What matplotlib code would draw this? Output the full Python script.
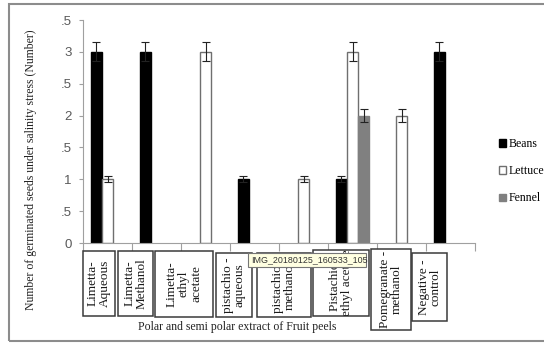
import numpy as np
import matplotlib
matplotlib.use('Agg')
import matplotlib.pyplot as plt
from matplotlib.patches import Rectangle

# data
categories = ['Limetta-\nAqueous', 'Limetta-\nMethanol', 'Limetta-\nethyl\nacetate',
              'pistachio -\naqueous', 'pistachio -\nmethanol', 'Pistachio -\nethyl acetate',
              'Pomegranate -\nmethanol', 'Negative -\ncontrol']
beans = [3, 3, 0, 1, 0, 1, 0, 3]
lettuce = [1, 0, 3, 0, 1, 3, 2, 0]
fennel = [0, 0, 0, 0, 0, 2, 0, 0]
beans_err = [0.15, 0.15, 0, 0.05, 0, 0.05, 0, 0.15]
lettuce_err = [0.05, 0, 0.15, 0, 0.05, 0.15, 0.1, 0]
fennel_err = [0, 0, 0, 0, 0, 0.1, 0, 0]
ytick_vals = [0, 0.5, 1, 1.5, 2, 2.5, 3, 3.5]
ytick_text = ['0', '.5', '1', '.5', '2', '.5', '3', '.5']

W, H = 544, 343
fig = plt.figure(figsize=(W / 100, H / 100), dpi=100)

def px(x, y):
    return x / W, 1 - y / H

# outer frame of the screenshot
fig.add_artist(Rectangle(px(9, 341), (W + 5 - 9) / W, (341 - 4) / H,
                         transform=fig.transFigure, fill=False,
                         edgecolor='#8c8c8c', lw=1.5))

ax = fig.add_axes([83 / W, 1 - 243 / H, (475 - 83) / W, (243 - 20) / H])
x = np.arange(len(categories))
bw = 0.2245
series = [(beans, beans_err, 'black', 'black', 'Beans'),
          (lettuce, lettuce_err, 'white', '#6f6f6f', 'Lettuce'),
          (fennel, fennel_err, '#808080', '#808080', 'Fennel')]
handles = []
for i, (vals, errs, fc, ec, name) in enumerate(series):
    v = np.array(vals, float)
    e = np.array(errs, float)
    xs = x + (i - 1) * bw
    keep = v > 0
    b = ax.bar(xs[keep], v[keep], bw, color=fc, edgecolor=ec, lw=1.0, label=name, zorder=2)
    ax.errorbar(xs[keep], v[keep], yerr=e[keep], fmt='none', ecolor='#222222',
                elinewidth=0.8, capsize=3, capthick=0.8, zorder=3)
    handles.append(b)

ax.set_xlim(-0.5, len(categories) - 0.5)
ax.set_ylim(0, 3.5)
ax.set_yticks(ytick_vals)
ax.set_yticklabels(ytick_text, fontsize=9.5, color='#595959', family='Liberation Sans')
ax.set_xticks(np.arange(len(categories) + 1) - 0.5)
ax.set_xticklabels([])
ax.tick_params(axis='x', length=6, color='#a0a0a0', direction='out')
ax.tick_params(axis='y', length=3, color='#a0a0a0', direction='out', pad=5)
for s in ['top', 'right']:
    ax.spines[s].set_visible(False)
for s in ['left', 'bottom']:
    ax.spines[s].set_color('#a0a0a0')

# boxed category labels (pixel extents as in the picture)
boxes = [(83, 251, 115, 316), (118, 251, 153, 316), (155, 251, 213, 317),
         (216, 253, 252, 317), (257, 253, 311, 317), (313, 250, 369, 316),
         (371, 249, 411, 330), (412, 253, 447, 321)]
for (x0, y0, x1, y1), lab in zip(boxes, categories):
    r = Rectangle(px(x0, y1), (x1 - x0) / W, (y1 - y0) / H, transform=fig.transFigure,
                  facecolor='white', edgecolor='#3a3a3a', lw=1.1)
    fig.add_artist(r)
    t = fig.text(*px((x0 + x1) / 2, (y0 + y1) / 2), lab, rotation=90, ha='center', va='center',
                 multialignment='center', fontsize=9.5, family='Liberation Serif',
                 linespacing=1.0, color='#1a1a1a')
    t.set_clip_path(r)

# tooltip from the screenshot
fig.add_artist(Rectangle(px(248, 267), (366 - 248) / W, 14 / H, transform=fig.transFigure,
                         facecolor='#ffffe1', edgecolor='#767676', lw=0.8, zorder=5))
fig.text(*px(251, 260), 'IMG_20180125_160533_105', fontsize=6.4, family='Liberation Sans',
         color='#333333', va='center', ha='left', zorder=6)

fig.text(*px(31, 170), 'Number of germinated seeds under salinity stress (Number)',
         rotation=90, ha='center', va='center', fontsize=8.5, family='Liberation Serif',
         color='#222222')
fig.text(*px(237, 327), 'Polar and semi polar extract of Fruit peels', ha='center',
         va='center', fontsize=8.5, family='Liberation Serif', color='#222222')

fig.legend(handles=handles, loc='upper left', bbox_to_anchor=px(499, 138), frameon=False,
           handlelength=0.6, handleheight=0.6, handletextpad=0.2, labelspacing=1.29,
           borderpad=0, borderaxespad=0, prop={'family': 'Liberation Serif', 'size': 8.5})

fig.savefig('out.png', dpi=100)
